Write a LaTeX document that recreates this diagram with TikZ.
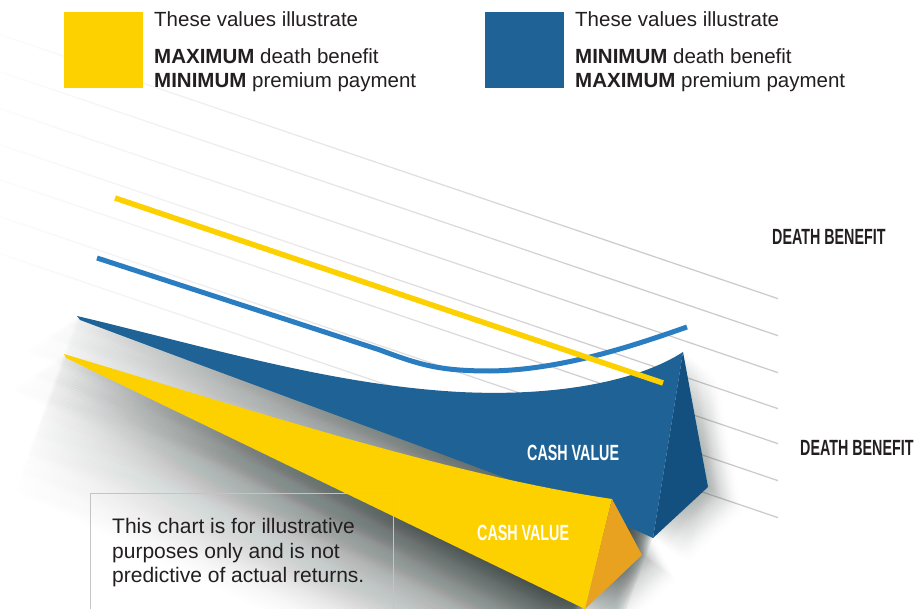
\documentclass[tikz,border=0pt]{standalone}
\usepackage{fontspec}
\setmainfont{Liberation Sans}
\newfontfamily\condfont[FakeStretch=0.65]{Liberation Sans}
\definecolor{ylw}{HTML}{FDD000}
\definecolor{blu}{HTML}{1F6396}
\definecolor{bludark}{HTML}{14507F}
\definecolor{orng}{HTML}{E9A21F}
\definecolor{bluline}{HTML}{2A7DC1}
\definecolor{linegray}{HTML}{CDCACB}
\definecolor{shadowc}{HTML}{34433F}
\definecolor{txt}{HTML}{231F20}
\definecolor{boxgray}{HTML}{C4C4C4}
\pgfdeclarehorizontalshading{linefade}{100bp}{color(0bp)=(white); color(22bp)=(white); color(45bp)=(linegray!45!white); color(65bp)=(linegray); color(100bp)=(linegray)}
\tikzset{
  bfront/.style={insert path={(77,316) .. controls (200,345) and (330,385) .. (460,392)
      .. controls (560,397) and (640,380) .. (683,352) -- (653,538)
      .. controls (560,495) and (400,440) .. (80,320) -- cycle}},
  bdark/.style={insert path={(683,352) -- (708,487) -- (653,538) -- cycle}},
  yfront/.style={insert path={(64,354) .. controls (250,410) and (450,475) .. (612,499)
      -- (585,609) -- (66,358) -- cycle}},
  ofacet/.style={insert path={(612,499) -- (642,555) -- (585,609) -- cycle}},
  legtext/.style={anchor=base west, inner sep=0pt, text=txt, font=\fontsize{20.5}{24}\selectfont},
  bigcap/.style={anchor=base west, inner sep=0pt, font=\condfont\bfseries\fontsize{22}{24}\selectfont},
  swatch/.style={inner sep=0pt, minimum width=79pt, minimum height=76pt, anchor=north west}
}
\begin{document}
\begin{tikzpicture}[x=1pt,y=-1pt]
\useasboundingbox (0,0) rectangle (917,609);
\fill[white] (0,0) rectangle (917,609);

% background guide lines
\foreach \ye in {298,335,372,408,443,480,517}{
  \shade[shading=linefade] (0,\ye-264) -- (778,\ye) -- (778,\ye+1.3) -- (0,\ye-262.7) -- cycle;
}

% soft shadows
\foreach \i in {1,...,40}{
  \pgfmathsetmacro{\op}{0.012*(1-\i/41)}
  \fill[shadowc, opacity=\op, shift={(-1.5*\i,1.0*\i)}, yfront];
  \fill[shadowc, opacity=\op, shift={(-1.5*\i,1.0*\i)}, bfront];
}
\foreach \i in {1,...,64}{
  \pgfmathsetmacro{\op}{0.032*(1-\i/65)}
  \fill[shadowc, opacity=\op, shift={(-0.8*\i,2.2*\i)}, yfront];
  \fill[shadowc, opacity=\op, shift={(-0.8*\i,2.2*\i)}, bfront];
}
\foreach \i in {1,...,24}{
  \pgfmathsetmacro{\op}{0.035*(1-\i/25)}
  \fill[shadowc, opacity=\op, shift={(1.5*\i,1.1*\i)}, bdark];
  \fill[shadowc, opacity=\op, shift={(1.5*\i,1.1*\i)}, ofacet];
}

% blue solid
\fill[blu, bfront];
\fill[bludark, bdark];
% yellow solid
\fill[ylw, yfront];
\fill[orng, ofacet];

% death benefit lines
\coordinate (bl0) at (97,258);
\coordinate (bl1) at (380,350);
\coordinate (bl2) at (490,371);
\coordinate (bl3) at (687,327);
\draw[bluline, line width=5pt] (bl0) -- (bl1) .. controls (420,365) and (440,371) .. (bl2)
   .. controls (560,370) and (630,347) .. (bl3);
\coordinate (yl0) at (115,198);
\coordinate (yl1) at (663,383);
\draw[ylw, line width=5.5pt] (yl0) -- (yl1);

% labels
\node[bigcap, text=txt] (db1) at (772,245) {DEATH BENEFIT};
\node[bigcap, text=txt] (db2) at (800,455) {DEATH BENEFIT};
\node[bigcap, text=white] (cv1) at (527,460) {CASH VALUE};
\node[bigcap, text=white] (cv2) at (477,540) {CASH VALUE};

% disclaimer box
\draw[boxgray, line width=1pt] (90,612) -- (90,493) -- (393,493) -- (393,612);
\node[anchor=north west, inner sep=0pt, text=txt, align=left,
      font=\fontsize{21}{24.5}\selectfont] (disc) at (112,518.5)
  {This chart is for illustrative\\purposes only and is not\\predictive of actual returns.};

% legend
\node[swatch, fill=ylw] (swy) at (64,12) {};
\node[legtext] (ly1) at (154,27) {These values illustrate};
\node[legtext] (ly2) at (154,63.5) {\textbf{MAXIMUM} death benefit};
\node[legtext] (ly3) at (154,87.5) {\textbf{MINIMUM} premium payment};
\node[swatch, fill=blu] (swb) at (485,12) {};
\node[legtext] (lb1) at (575,27) {These values illustrate};
\node[legtext] (lb2) at (575,63.5) {\textbf{MINIMUM} death benefit};
\node[legtext] (lb3) at (575,87.5) {\textbf{MAXIMUM} premium payment};
\end{tikzpicture}
\end{document}
